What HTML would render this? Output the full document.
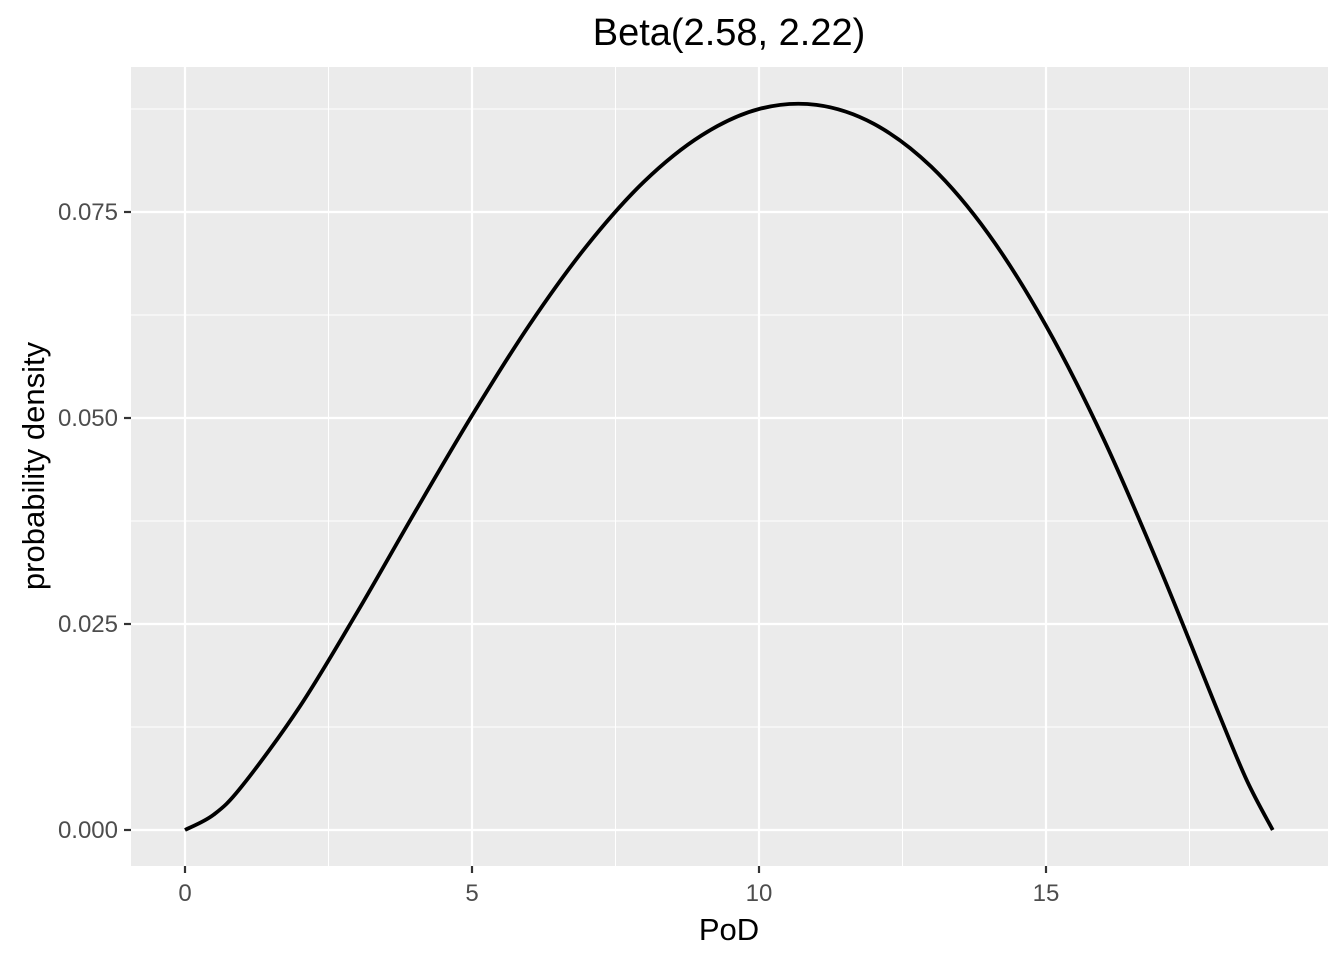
<!DOCTYPE html>
<html><head><meta charset="utf-8"><style>
body{margin:0;background:#fff;}
svg text{font-family:"Liberation Sans",Arial,sans-serif;}
</style></head><body>
<svg id="chart" width="1344" height="960"></svg>
<script>
const xVals=[0,0.5,1,2,3,4,5,6,7,8,9,10,11,12,13,14,15,16,17,18,18.5,18.95];
const yVals=[0,0.00186,0.00539,0.01498,0.02643,0.03851,0.0503,0.0613,0.0709,0.0787,0.0843,0.0875,0.0880,0.0857,0.0805,0.0723,0.0612,0.0475,0.0315,0.0143,0.0060,0];
const xTicks=[0,5,10,15];
const xTickLabels=["0","5","10","15"];
const yTicks=[0,0.025,0.05,0.075];
const yTickLabels=["0.000","0.025","0.050","0.075"];
const NS="http://www.w3.org/2000/svg";
const svg=document.getElementById('chart');
const L=131,R=1328,T=67,B=866;
const sx=v=>185+v*57.4;
const sy=v=>830-v*8240;
function mk(tag,attrs,parent){const e=document.createElementNS(NS,tag);for(const k in attrs)e.setAttribute(k,attrs[k]);(parent||svg).appendChild(e);return e;}
const panel=mk('rect',{x:L,y:T,width:R-L,height:B-T,fill:'#ebebeb'});


for(let i=0;i<xTicks.length;i++){const m=xTicks[i]+2.5;const x=sx(m);if(x<R){const g=mk('line',{x1:x,x2:x,y1:T,y2:B,stroke:'#fff','stroke-width':1});}}
for(let i=0;i<yTicks.length;i++){const m=yTicks[i]+0.0125;const y=sy(m);if(y>T){const g=mk('line',{x1:L,x2:R,y1:y,y2:y,stroke:'#fff','stroke-width':1});}}
xTicks.forEach((v,i)=>{const x=sx(v);
const g=mk('line',{x1:x,x2:x,y1:T,y2:B,stroke:'#fff','stroke-width':2.2});
const t=mk('line',{x1:x,x2:x,y1:B,y2:B+7,stroke:'#333','stroke-width':2.2});
const l=mk('text',{x:x,y:901,'text-anchor':'middle','font-size':24,fill:'#4d4d4d'});l.textContent=xTickLabels[i];});
yTicks.forEach((v,i)=>{const y=sy(v);
const g=mk('line',{x1:L,x2:R,y1:y,y2:y,stroke:'#fff','stroke-width':2.2});
const t=mk('line',{x1:L-7,x2:L,y1:y,y2:y,stroke:'#333','stroke-width':2.2});
const l=mk('text',{x:L-13,y:y+8,'text-anchor':'end','font-size':24,fill:'#4d4d4d'});l.textContent=yTickLabels[i];});
const pts=xVals.map((v,i)=>[sx(v),sy(yVals[i])]);
let d='M'+pts[0][0]+','+pts[0][1];
for(let i=0;i<pts.length-1;i++){const p0=pts[Math.max(0,i-1)],p1=pts[i],p2=pts[i+1],p3=pts[Math.min(pts.length-1,i+2)];
d+=' C'+(p1[0]+(p2[0]-p0[0])/6)+','+(p1[1]+(p2[1]-p0[1])/6)+' '+(p2[0]-(p3[0]-p1[0])/6)+','+(p2[1]-(p3[1]-p1[1])/6)+' '+p2[0]+','+p2[1];}
const c=mk('path',{d:d,fill:'none',stroke:'#000','stroke-width':3.8});


const ti=mk('text',{x:729,y:45,'text-anchor':'middle','font-size':38,fill:'#000'});ti.textContent='Beta(2.58, 2.22)';


const xt=mk('text',{x:729,y:940,'text-anchor':'middle','font-size':31,fill:'#000'});xt.textContent='PoD';


const yt=mk('text',{x:0,y:0,'text-anchor':'middle','font-size':31,fill:'#000',transform:'translate(44,466) rotate(-90)'});yt.textContent='probability density';


</script>
</body></html>
